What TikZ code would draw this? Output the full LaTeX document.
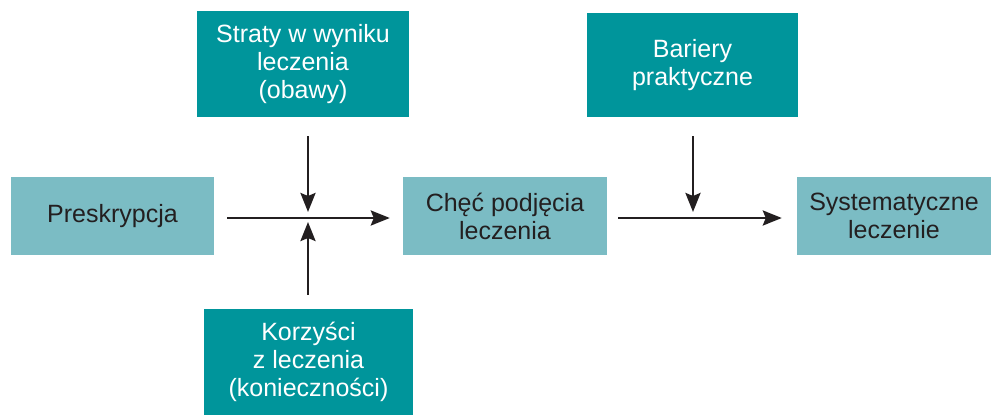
\documentclass[tikz,border=0pt]{standalone}
\usepackage{fontspec}
\setmainfont{Liberation Sans}
\usetikzlibrary{arrows.meta}
\definecolor{tealdark}{HTML}{00959B}
\definecolor{teallight}{HTML}{7BBCC4}
\definecolor{ink}{HTML}{231F20}
\begin{document}
\begin{tikzpicture}[x=1pt,y=-1pt,
  boxbase/.style={rectangle, inner sep=0pt, align=center,
    font=\fontsize{25}{28}\selectfont},
  darkbox/.style={boxbase, fill=tealdark, text=white},
  lightbox/.style={boxbase, fill=teallight, text=ink},
  arr/.style={draw=ink, line width=2.7pt,
    -{Stealth[length=19pt,width=15pt,inset=3pt]}}]
\useasboundingbox (0,0) rectangle (991,415);

% main chain
\node[lightbox, minimum width=203pt, minimum height=78pt] (pre) at (112.5,216) {Preskrypcja};
\node[lightbox, minimum width=204pt, minimum height=78pt] (chec) at (505,216) {Chęć podjęcia\\leczenia};
\node[lightbox, minimum width=194pt, minimum height=78pt] (sys) at (894,216) {Systematyczne\\leczenie};

% influencing factors
\node[darkbox, minimum width=212pt, minimum height=106pt] (strata) at (303,64) {Straty w wyniku\\leczenia\\(obawy)};
\node[darkbox, minimum width=209pt, minimum height=106pt] (korz) at (308.5,362) {Korzyści\\z leczenia\\(konieczności)};
\node[darkbox, minimum width=211pt, minimum height=104pt] (bar) at (692.5,65) {Bariery\\praktyczne};

% junction points on the horizontal arrows
\coordinate (j1) at (308,218);
\coordinate (j2) at (693,218);

\draw[arr] ([xshift=13pt]pre.east |- j1) -- ([xshift=-13pt]chec.west |- j1);
\draw[arr] ([xshift=11pt]chec.east |- j2) -- ([xshift=-15pt]sys.west |- j2);

\draw[arr] ([yshift=-19pt]strata.south -| j1) -- ([yshift=6pt]j1);
\draw[arr] ([yshift=14pt]korz.north -| j1) -- ([yshift=-4pt]j1);
\draw[arr] ([yshift=-19pt]bar.south -| j2) -- ([yshift=6pt]j2);
\end{tikzpicture}
\end{document}
